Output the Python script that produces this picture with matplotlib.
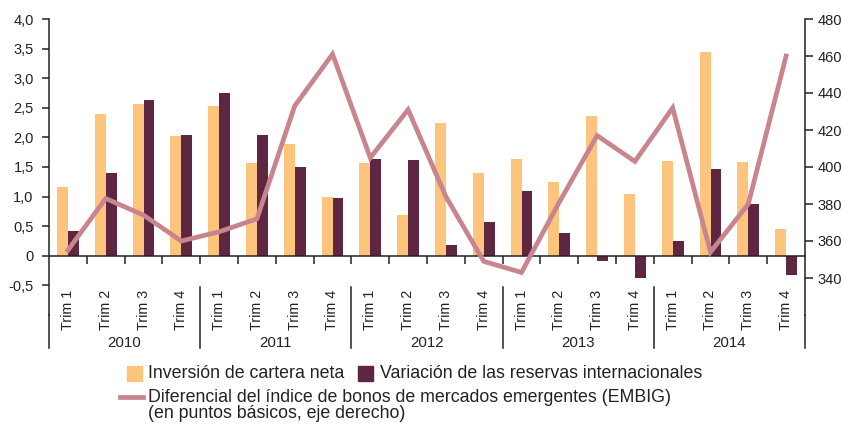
import matplotlib.pyplot as plt
import numpy as np
from matplotlib.patches import Rectangle
from matplotlib.lines import Line2D

plt.rcParams['font.family'] = ['Liberation Sans', 'DejaVu Sans']

# Data
years = ["2010", "2011", "2012", "2013", "2014"]
quarters = ["Trim 1", "Trim 2", "Trim 3", "Trim 4"]

cartera = [1.17, 2.39, 2.57, 2.02,
           2.53, 1.56, 1.89, 1.00,
           1.56, 0.69, 2.24, 1.40,
           1.63, 1.24, 2.36, 1.05,
           1.60, 3.44, 1.58, 0.46]
reservas = [0.42, 1.40, 2.63, 2.04,
            2.75, 2.04, 1.50, 0.97,
            1.63, 1.62, 0.18, 0.57,
            1.10, 0.39, -0.08, -0.38,
            0.25, 1.47, 0.88, -0.33]
embig = [355, 383, 374, 360,
         365, 372, 433, 461,
         405, 431, 384, 349,
         343, 381, 417, 403,
         432, 354, 380, 460]

c_yellow = "#fdc47d"
c_dark = "#5e2641"
c_line = "#c9858e"
c_axis = "#222222"

W, H = 842, 424


def fx(x):
    return x / W


def fy(y):
    return 1 - y / H


fig = plt.figure(figsize=(W / 100, H / 100), dpi=100)
ax_l, ax_r, ax_t, ax_b = 49, 805, 19, 315
ax = fig.add_axes([fx(ax_l), fy(ax_b), (ax_r - ax_l) / W, (ax_b - ax_t) / H])

n = len(cartera)
x = np.arange(n)
bw = 0.29
ax.bar(x - bw / 2, cartera, bw, color=c_yellow, zorder=2)
ax.bar(x + bw / 2, reservas, bw, color=c_dark, zorder=2)

ax.set_xlim(-0.5, n - 0.5)
ax.set_ylim(-1, 4)
yt = np.arange(-0.5, 4.01, 0.5)
ax.set_yticks(yt)
ax.set_yticklabels(["0" if abs(v) < 1e-9 else f"{v:.1f}".replace(".", ",") for v in yt])

for s in ["top", "right"]:
    ax.spines[s].set_visible(False)
ax.spines["bottom"].set_position(("data", 0))
ax.spines["left"].set_color(c_axis)
ax.spines["bottom"].set_color(c_axis)
ax.spines["left"].set_linewidth(1.1)
ax.spines["bottom"].set_linewidth(1.1)
ax.set_xticks(np.arange(0.5, n - 1, 1))
ax.set_xticklabels([])
ax.tick_params(axis="x", direction="out", length=6, width=1.1, color=c_axis)
ax.tick_params(axis="y", direction="out", length=5, width=1.1, color=c_axis,
               labelsize=10.5, pad=6, labelcolor="#222222")

# Right axis with the EMBIG line
ax2 = ax.twinx()
ax2.plot(x, embig, color=c_line, lw=3.4, solid_joinstyle="miter", zorder=3)
ax2.set_ylim(320, 480)
ax2.set_yticks(np.arange(340, 481, 20))
for s in ["top", "left", "bottom"]:
    ax2.spines[s].set_visible(False)
ax2.spines["right"].set_color(c_axis)
ax2.spines["right"].set_linewidth(1.1)
ax2.tick_params(axis="y", direction="out", length=6, width=1.1, color=c_axis,
                labelsize=10.5, pad=3, labelcolor="#222222")

# Category labels, year labels and separators
tr = ax.get_xaxis_transform()
ah = ax_b - ax_t


def ay(ypix):
    return (ax_b - ypix) / ah


for i in range(n):
    ax.text(x[i], ay(310), quarters[i % 4], rotation=90, ha="center", va="center",
            fontsize=10.3, color="#222222", transform=tr)
for k, yr in enumerate(years):
    ax.text(4 * k + 1.5, ay(343), yr, ha="center", va="center",
            fontsize=10.8, color="#222222", transform=tr)
for k in range(len(years) + 1):
    xb = 4 * k - 0.5
    top = 0 if k in (0, len(years)) else ay(287)
    ax.plot([xb, xb], [top, ay(348)], color=c_axis, lw=1.1, transform=tr, clip_on=False)

# Legend drawn by hand
fs_leg = 12.8
fig.patches.append(Rectangle((fx(127), fy(381)), 15 / W, 15 / H, color=c_yellow,
                             transform=fig.transFigure))
fig.text(fx(148), fy(374), "Inversión de cartera neta", fontsize=fs_leg, va="center", color="#222222")
fig.patches.append(Rectangle((fx(358), fy(381)), 15 / W, 15 / H, color=c_dark,
                             transform=fig.transFigure))
fig.text(fx(380), fy(374), "Variación de las reservas internacionales", fontsize=fs_leg,
         va="center", color="#222222")
fig.lines.append(Line2D([fx(120), fx(143)], [fy(397), fy(397)], color=c_line, lw=3.4,
                        transform=fig.transFigure))
fig.text(fx(148), fy(397), "Diferencial del índice de bonos de mercados emergentes (EMBIG)",
         fontsize=fs_leg, va="center", color="#222222")
fig.text(fx(148), fy(414), "(en puntos básicos, eje derecho)", fontsize=fs_leg, va="center",
         color="#222222")

fig.savefig("out.png", dpi=100)
